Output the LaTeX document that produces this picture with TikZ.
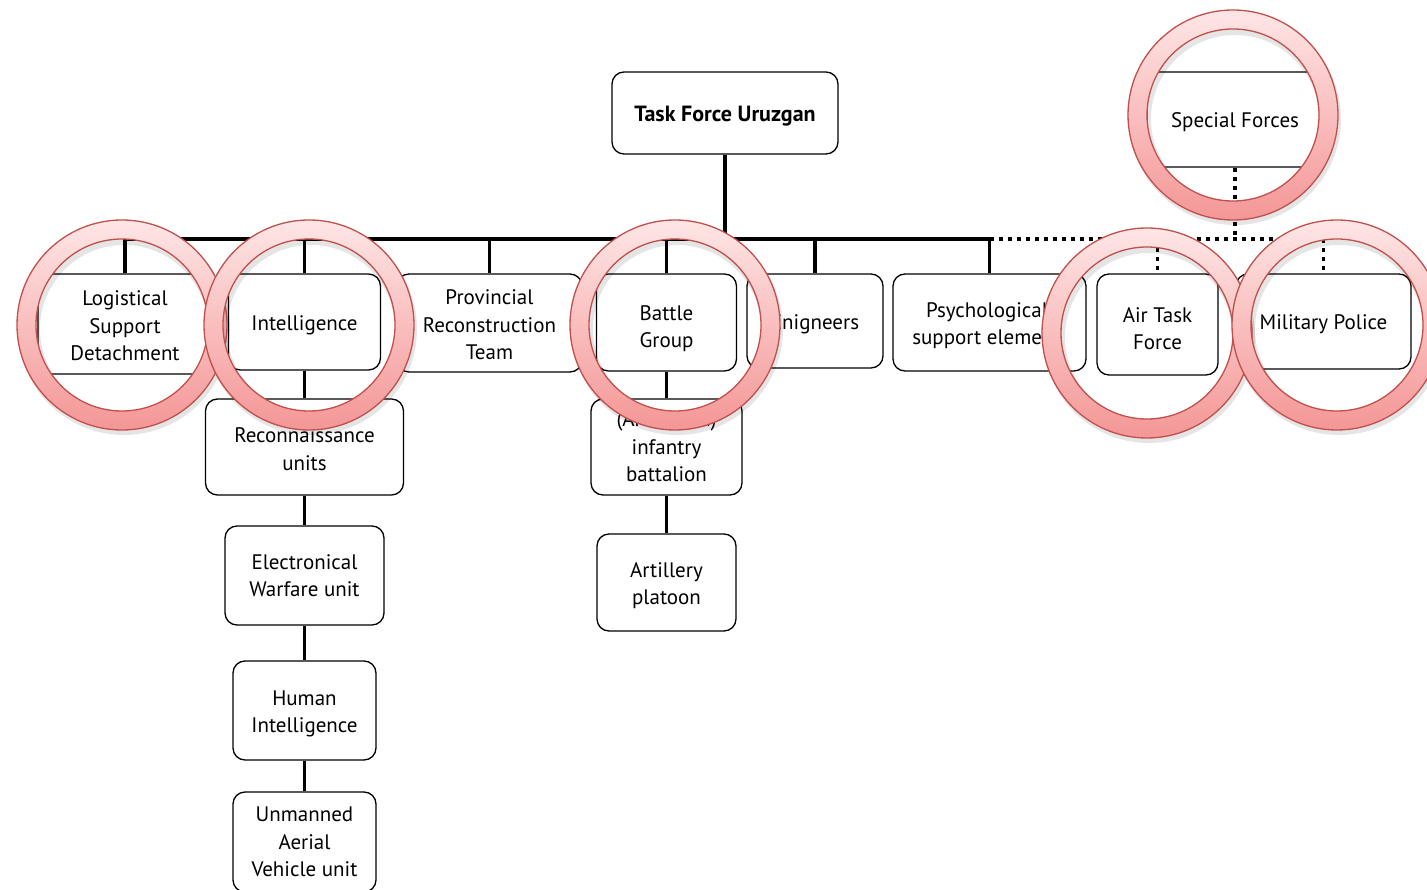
\documentclass[tikz,border=0pt]{standalone}
\usepackage{fontspec}
\setmainfont{PT Sans}
\usetikzlibrary{calc}
\definecolor{ringtop}{HTML}{FFE6E6}
\definecolor{ringbot}{HTML}{F49696}
\definecolor{ringedge}{HTML}{C0504D}
\newcommand\lensring[1]{%
  \fill[black, opacity=0.10, even odd rule] ($(#1)+(2,4)$) circle (106) ($(#1)+(2,4)$) circle (84);
  \shade[top color=ringtop, bottom color=ringbot, even odd rule] (#1) circle (105) (#1) circle (86);
  \draw[ringedge, line width=1.3pt] (#1) circle (105) (#1) circle (86);
}
\newcommand\lowerby[1]{\rule{0pt}{#1}}
\begin{document}
\begin{tikzpicture}[x=1pt,y=-1pt,
  box/.style={draw, rounded corners=12pt, line width=1.3pt, align=center,
    font=\fontsize{21}{27.5}\selectfont, inner sep=0pt,
    execute at begin node={\rule{0pt}{21pt}}},
  link/.style={line width=3.5pt},
  dotlink/.style={line width=3.5pt, dash pattern=on 4.5pt off 4.5pt},
]
\useasboundingbox (0,0) rectangle (1427,890);
\fill[white] (0,0) rectangle (1427,890);

% nodes
\node[box, minimum width=226, minimum height=82, font=\bfseries\fontsize{22}{27.5}\selectfont] (tfu) at (725,113) {Task Force Uruzgan};
\node[box, minimum width=174, minimum height=100] (lsd) at (125,324) {\lowerby{19pt}Logistical\\Support\\Detachment};
\node[box, minimum width=152, minimum height=96] (intel) at (304.5,322) {Intelligence};
\node[box, minimum width=185, minimum height=98] (prt) at (489.5,323) {\lowerby{19pt}Provincial\\Reconstruction\\Team};
\node[box, minimum width=140, minimum height=97] (bg) at (666.5,322.5) {\lowerby{27pt}Battle\\Group};
\node[box, minimum width=136, minimum height=94] (eng) at (815,321) {Enigneers};
\node[box, minimum width=193, minimum height=97] (psy) at (989.5,322.5) {\lowerby{21pt}Psychological\hspace*{5pt}\\support element\hspace*{6pt}};
\node[box, minimum width=121, minimum height=101] (atf) at (1157.5,324.5) {\lowerby{23pt}Air Task\\Force};
\node[box, minimum width=175, minimum height=95] (mp) at (1323.5,321.5) {Military Police};
\node[box, minimum width=176, minimum height=95] (sf) at (1235,119.5) {Special Forces};
\node[box, minimum width=198, minimum height=96] (recon) at (304.5,447) {\lowerby{19pt}Reconnaissance\\units};
\node[box, minimum width=159, minimum height=99] (ew) at (304.5,575.5) {Electronical\\Warfare unit};
\node[box, minimum width=143, minimum height=99] (hum) at (304.5,710.5) {\lowerby{21pt}Human\\Intelligence};
\node[box, minimum width=143, minimum height=100] (uav) at (304.5,842) {Unmanned\\Aerial\\Vehicle unit};
\node[box, minimum width=151, minimum height=96] (inf) at (666.5,447) {(Armoured)\\infantry\\battalion};
\node[box, minimum width=139, minimum height=97] (art) at (666.5,582.5) {\lowerby{21pt}Artillery\\platoon};

% connectors
\coordinate (bus) at (725,239);
\draw[link] (tfu.south) -- (bus);
\draw[link] (lsd.north) -- (lsd.north |- bus) -- (psy.north |- bus) -- (psy.north);
\foreach \n in {intel,prt,bg,eng} \draw[link] (\n.north |- bus) -- (\n.north);
\draw[dotlink] (psy.north |- bus) -- (mp.north |- bus);
\draw[dotlink] (sf.south) -- (sf.south |- bus);
\draw[dotlink] (atf.north |- bus) -- (atf.north);
\draw[dotlink] (mp.north |- bus) -- (mp.north);
\draw[link] (intel.south) -- (recon.north);
\draw[link] (recon.south) -- (ew.north);
\draw[link] (ew.south) -- (hum.north);
\draw[link] (hum.south) -- (uav.north);
\draw[link] (bg.south) -- (inf.north);
\draw[link] (inf.south) -- (art.north);

% lens rings
\coordinate (c1) at (122,325);
\coordinate (c2) at (309,325);
\coordinate (c3) at (675,325);
\coordinate (c4) at (1233,115);
\coordinate (c5) at (1147,333);
\coordinate (c6) at (1337,325);
\lensring{c1}
\lensring{c2}
\lensring{c3}
\lensring{c4}
\lensring{c5}
\lensring{c6}
\end{tikzpicture}
\end{document}
